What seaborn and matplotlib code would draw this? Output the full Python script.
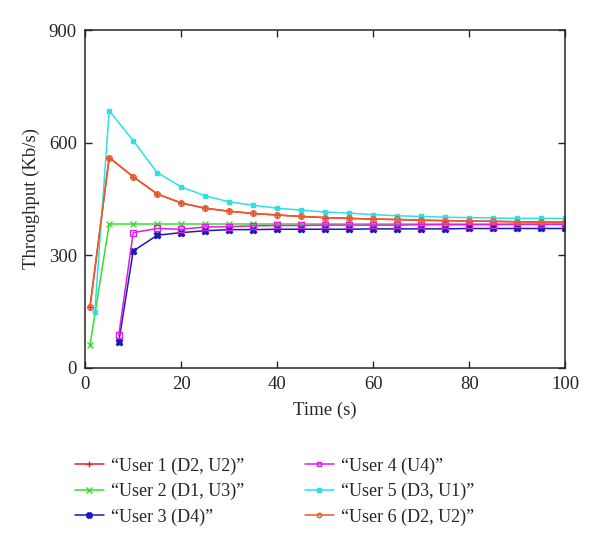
import pandas as pd
import matplotlib.pyplot as plt
import seaborn as sns

# data
t_full = [1, 5, 10, 15, 20, 25, 30, 35, 40, 45, 50, 55, 60, 65, 70, 75, 80, 85, 90, 95, 100]
t_cyan = [2] + t_full[1:]
t_late = [7] + t_full[2:]

user1 = [162, 560, 509, 463, 439, 425, 417, 411, 407, 403, 400, 398, 396, 395, 393, 392, 391, 390, 389, 388, 388]
user2 = [60] + [383] * 20
user3 = [69, 311, 353, 360, 365, 368, 368, 369, 369, 369, 369, 370, 370, 370, 370, 371, 371, 371, 371, 371]
user4 = [87, 360, 371, 369, 375, 376, 378, 379, 379, 380, 380, 380, 380, 381, 381, 381, 381, 382, 382, 382]
user5 = [149, 685, 605, 520, 482, 458, 442, 433, 425, 420, 415, 412, 408, 405, 403, 401, 400, 399, 398, 398, 398]
user6 = [162, 560, 509, 463, 439, 425, 417, 411, 407, 403, 400, 398, 396, 395, 393, 392, 391, 390, 389, 388, 388]

labels = ["\u201cUser 1 (D2, U2)\u201d", "\u201cUser 2 (D1, U3)\u201d", "\u201cUser 3 (D4)\u201d",
          "\u201cUser 4 (U4)\u201d", "\u201cUser 5 (D3, U1)\u201d", "\u201cUser 6 (D2, U2)\u201d"]

series = [
    (t_full, user1, "#e8202a", "+", "full"),
    (t_full, user2, "#33e02a", "x", "full"),
    (t_late, user3, "#1a1ab8", "X", "full"),
    (t_late, user4, "#e21ce6", "s", "none"),
    (t_cyan, user5, "#2ee0e6", "s", "full"),
    (t_full, user6, "#ef5a23", "o", "none"),
]

sns.set_style("ticks")
plt.rcParams['font.family'] = ['Liberation Serif', 'DejaVu Serif']

fig = plt.figure(figsize=(6, 5.36), dpi=100)
ax = fig.add_axes([0.142, 0.314, 0.8, 0.63])

for (t, y, c, m, fill), lab in zip(series, labels):
    df = pd.DataFrame({"Time": t, "Throughput": y})
    msize = 4 if m in ("s", "o") else 5
    if lab.startswith("\u201cUser 5"):
        msize = 3.5
    sns.lineplot(data=df, x="Time", y="Throughput", ax=ax, color=c, marker=m,
                 markersize=msize, linewidth=1.1, label=lab,
                 markerfacecolor=(c if fill == "full" else "none"),
                 markeredgecolor=c, markeredgewidth=1.0)

ax.set_xlim(0, 100)
ax.set_ylim(0, 900)
ax.set_xticks([0, 20, 40, 60, 80, 100])
ax.set_yticks([0, 300, 600, 900])
ax.tick_params(direction="in", top=True, right=True, labelsize=13.5, length=5, width=1, pad=6)
for s in ax.spines.values():
    s.set_linewidth(1.1)
ax.set_xlabel("Time (s)", fontsize=13.5, labelpad=6)
ax.set_ylabel("Throughput (Kb/s)", fontsize=13.5, labelpad=6)

handles, labs = ax.get_legend_handles_labels()
ax.get_legend().remove()
fig.legend(handles, labs, loc="upper left", bbox_to_anchor=(0.098, 0.177), ncol=2,
           frameon=False, fontsize=13, handlelength=1.6, handletextpad=0.4,
           columnspacing=3.35, labelspacing=0.45, markerscale=0.8)

fig.savefig("out.png", dpi=100)
